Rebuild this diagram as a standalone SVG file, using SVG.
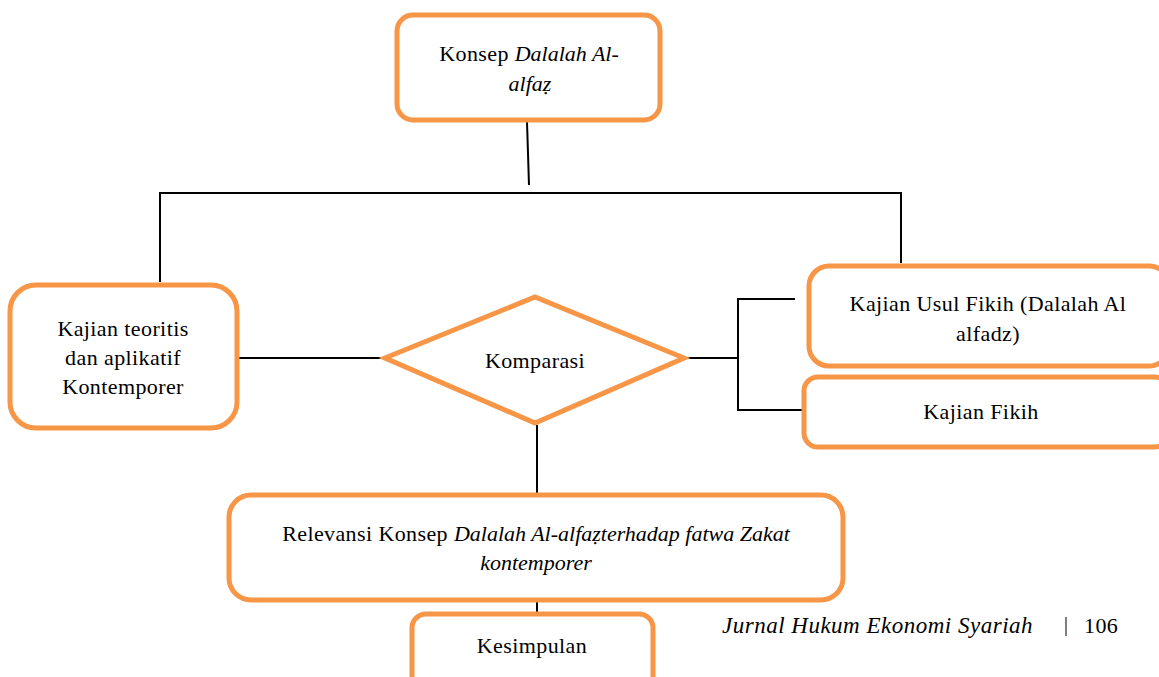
<svg xmlns="http://www.w3.org/2000/svg" width="1159" height="677" viewBox="0 0 1159 677">
<style>
.box{fill:#fff;stroke:#F79646;stroke-width:5}
.ln{stroke:#000;stroke-width:2;fill:none}
.t{font-family:"Liberation Serif",serif;font-size:22px;letter-spacing:0.4px;fill:#000;text-anchor:middle}
.i{font-style:italic;letter-spacing:0}
</style>
<rect width="1159" height="677" fill="#fff"/>
<g id="connectors">
<line class="ln" x1="527" y1="122" x2="529" y2="185"/>
<polyline class="ln" points="160,282 160,193 901,193 901,263"/>
<line class="ln" x1="238" y1="358" x2="385" y2="358"/>
<line class="ln" x1="685" y1="358" x2="738" y2="358"/>
<polyline class="ln" points="795,299 738,299 738,410 802,410"/>
<line class="ln" x1="537" y1="425" x2="537" y2="493"/>
<line class="ln" x1="537" y1="601" x2="537" y2="613"/>
</g>
<g id="n-konsep">
<rect class="box" x="397" y="15" width="263" height="105" rx="16"/>
<text class="t" x="529" y="61">Konsep <tspan class="i">Dalalah Al-</tspan></text>
<text class="t i" x="530" y="91">alfaẓ</text>
</g>
<g id="n-kajian-teoritis">
<rect class="box" x="10" y="285" width="227" height="143" rx="26"/>
<text class="t" x="123" y="336">Kajian teoritis</text>
<text class="t" x="123" y="365">dan aplikatif</text>
<text class="t" x="123" y="394">Kontemporer</text>
</g>
<g id="n-komparasi">
<polygon class="box" points="385,358 535,297 684,358 535,423"/>
<text class="t" x="535" y="368">Komparasi</text>
</g>
<g id="n-usul-fikih">
<rect class="box" x="809" y="266" width="360" height="100" rx="20"/>
<text class="t" x="988" y="311">Kajian Usul Fikih (Dalalah Al</text>
<text class="t" x="988" y="341">alfadz)</text>
</g>
<g id="n-fikih">
<rect class="box" x="804" y="377" width="365" height="70" rx="14"/>
<text class="t" x="981" y="419">Kajian Fikih</text>
</g>
<g id="n-relevansi">
<rect class="box" x="229" y="495" width="614" height="105" rx="22"/>
<text class="t" x="536" y="541">Relevansi Konsep <tspan class="i">Dalalah Al-alfaẓterhadap fatwa Zakat</tspan></text>
<text class="t i" x="536" y="570">kontemporer</text>
</g>
<g id="n-kesimpulan">
<rect class="box" x="412" y="614" width="241" height="80" rx="14"/>
<text class="t" x="532" y="653">Kesimpulan</text>
</g>
<g id="footer">
<text class="t i" x="722" y="633" style="text-anchor:start;font-size:23px;letter-spacing:0.5px">Jurnal Hukum Ekonomi Syariah</text>
<line x1="1066" y1="617" x2="1066" y2="636" stroke="#555" stroke-width="1.5"/>
<text class="t" x="1084" y="633" style="text-anchor:start">106</text>
</g>
</svg>
